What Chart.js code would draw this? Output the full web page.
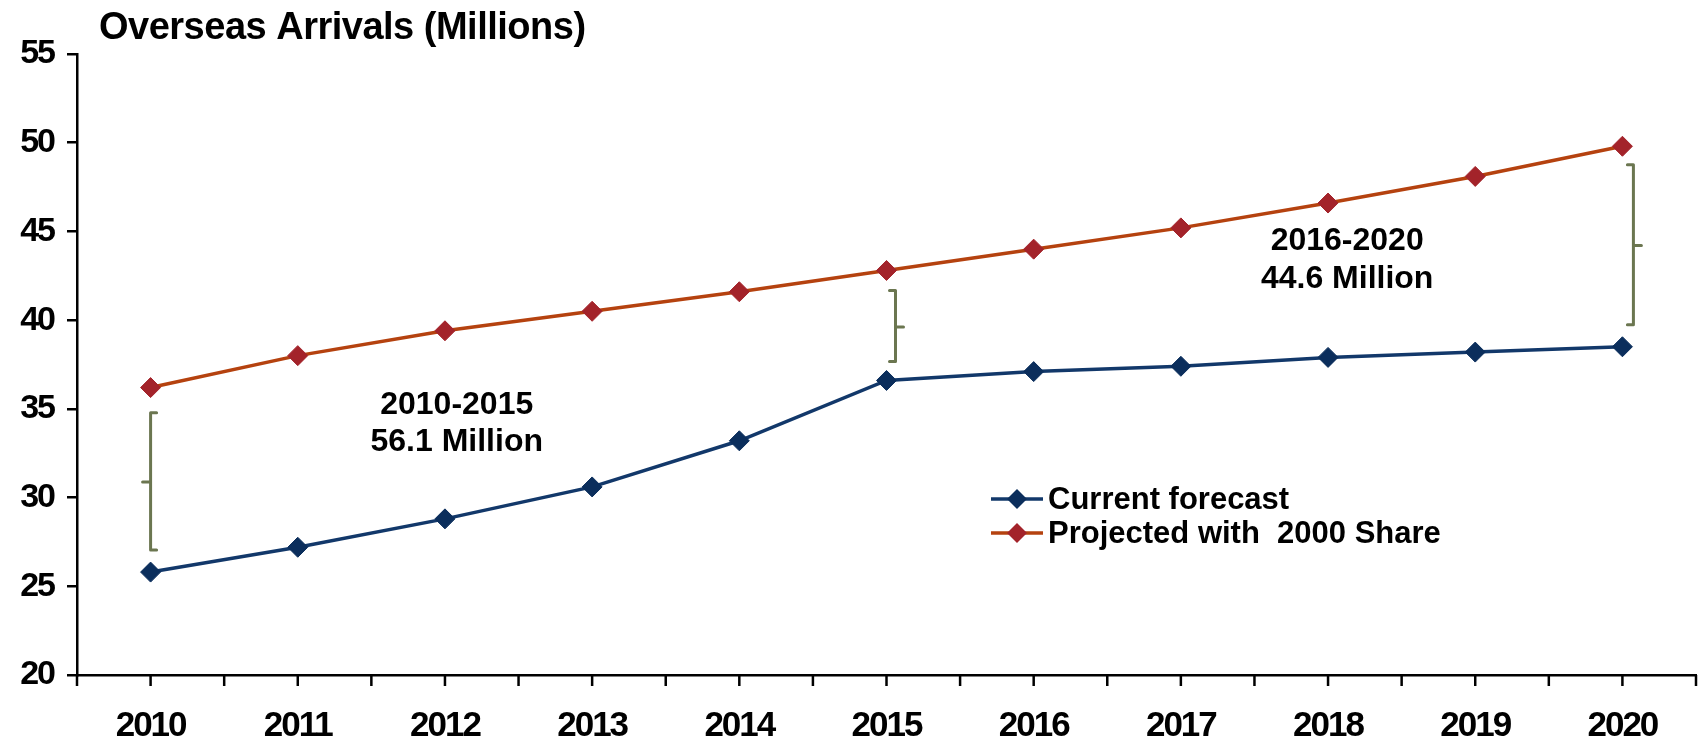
<!DOCTYPE html>
<html><head><meta charset="utf-8">
<script src="https://cdn.jsdelivr.net/npm/chart.js@4/dist/chart.umd.min.js"></script>
<style>html,body{margin:0;padding:0;background:#fff;}#wrap{width:1707px;height:738px;position:relative;}</style>
</head><body><div id="wrap"><canvas id="c" width="1707" height="738"></canvas></div>
<script>
const categories = ['2010','2011','2012','2013','2014','2015','2016','2017','2018','2019','2020'];
const currentForecast = [25.8, 27.2, 28.8, 30.6, 33.2, 36.6, 37.1, 37.4, 37.9, 38.2, 38.5];
const projected2000Share = [36.2, 38.0, 39.4, 40.5, 41.6, 42.8, 44.0, 45.2, 46.6, 48.1, 49.8];
const seriesNames = ['Current forecast', 'Projected with  2000 Share'];
const yMin = 20, yMax = 55, yStep = 5;
const chartTitle = 'Overseas Arrivals (Millions)';
const gapTextLines = [['2010-2015', '56.1 Million'], ['2016-2020', '44.6 Million']];
const bracketYears = ['2010', '2015', '2020'];
const bracketLow = [27.05, 37.67, 39.74];
const bracketHigh = [34.78, 41.67, 48.76];
const bracketMid = [30.88, 39.61, 44.21];

const FONT = '"Liberation Sans", Arial, sans-serif';
const NAVY_LINE = '#12386A', NAVY_MARK = '#0B2E5C';
const RUST_LINE = '#B5420F', RUST_MARK = '#A3232A';
const OLIVE = '#6B7650';

const overlay = {
  id: 'overlay',
  beforeDraw(chart) { chart.ctx.letterSpacing = '-2px'; },
  afterDraw(chart) {
    const ctx = chart.ctx, xs = chart.scales.x, ys = chart.scales.y;
    const area = chart.chartArea;
    ctx.save();
    ctx.letterSpacing = '0px';
    // x tick marks at centers and boundaries
    ctx.strokeStyle = '#000'; ctx.lineWidth = 2.5;
    const w = xs.getPixelForValue(1) - xs.getPixelForValue(0);
    for (let i = 0; i < categories.length; i++) {
      const c = xs.getPixelForValue(i);
      [c - w / 2, c].forEach(px => { ctx.beginPath(); ctx.moveTo(px, area.bottom); ctx.lineTo(px, area.bottom + 11); ctx.stroke(); });
    }
    const lastB = xs.getPixelForValue(categories.length - 1) + w / 2;
    ctx.beginPath(); ctx.moveTo(lastB, area.bottom); ctx.lineTo(lastB, area.bottom + 11); ctx.stroke();

    // title
    ctx.fillStyle = '#000';
    ctx.font = 'bold 38px ' + FONT;
    ctx.letterSpacing = '-0.5px';
    ctx.textAlign = 'left'; ctx.textBaseline = 'middle';
    ctx.fillText(chartTitle, 99, 29);
    ctx.letterSpacing = '0px';

    // brackets
    const offs = [0, 9, 11];
    const dirs = [1, -1, -1];
    ctx.strokeStyle = OLIVE; ctx.lineWidth = 3; ctx.lineJoin = 'round'; ctx.lineCap = 'round';
    bracketYears.forEach((yr, k) => {
      const x = xs.getPixelForValue(categories.indexOf(yr)) + offs[k];
      const yt = ys.getPixelForValue(bracketHigh[k]);
      const yb = ys.getPixelForValue(bracketLow[k]);
      const ym = ys.getPixelForValue(bracketMid[k]);
      const d = dirs[k];
      ctx.beginPath();
      ctx.moveTo(x + d * 6, yt); ctx.lineTo(x, yt); ctx.lineTo(x, yb); ctx.lineTo(x + d * 6, yb);
      ctx.moveTo(x, ym); ctx.lineTo(x - d * 8, ym);
      ctx.stroke();
    });

    // gap labels
    ctx.fillStyle = '#000';
    ctx.font = 'bold 32px ' + FONT;
    ctx.textAlign = 'center';
    const pos = [[2.08, 35.2, 33.15], [8.13, 44.45, 42.3]];
    gapTextLines.forEach((lines, k) => {
      const x = xs.getPixelForValue(0) + pos[k][0] * w;
      ctx.fillText(lines[0], x, ys.getPixelForValue(pos[k][1]));
      ctx.fillText(lines[1], x, ys.getPixelForValue(pos[k][2]));
    });

    // legend
    const ds = chart.data.datasets;
    ctx.font = 'bold 31px ' + FONT;
    ctx.textAlign = 'left';
    [499, 533].forEach((yy, k) => {
      ctx.strokeStyle = ds[k].borderColor; ctx.lineWidth = 3.5; ctx.lineCap = 'butt';
      ctx.beginPath(); ctx.moveTo(991, yy); ctx.lineTo(1043, yy); ctx.stroke();
      ctx.fillStyle = ds[k].pointBackgroundColor;
      const r = 10, cx = 1017;
      ctx.beginPath(); ctx.moveTo(cx, yy - r); ctx.lineTo(cx + r, yy); ctx.lineTo(cx, yy + r); ctx.lineTo(cx - r, yy); ctx.closePath(); ctx.fill();
      ctx.fillStyle = '#000';
      ctx.fillText(seriesNames[k], 1048, yy + 1);
    });
    ctx.restore();
  }
};

new Chart(document.getElementById('c'), {
  type: 'line',
  data: {
    labels: categories,
    datasets: [
      { label: seriesNames[0], data: currentForecast, borderColor: NAVY_LINE, backgroundColor: NAVY_MARK,
        pointBackgroundColor: NAVY_MARK, pointBorderColor: NAVY_MARK, borderWidth: 3.5, pointStyle: 'rectRot',
        pointRadius: 10, pointBorderWidth: 1, tension: 0, fill: false },
      { label: seriesNames[1], data: projected2000Share, borderColor: RUST_LINE, backgroundColor: RUST_MARK,
        pointBackgroundColor: RUST_MARK, pointBorderColor: RUST_MARK, borderWidth: 3.5, pointStyle: 'rectRot',
        pointRadius: 10, pointBorderWidth: 1, tension: 0, fill: false }
    ]
  },
  options: {
    responsive: false, animation: false, devicePixelRatio: 1,
    layout: { padding: { top: 54, right: 8, left: 0, bottom: 0 } },
    plugins: { legend: { display: false }, title: { display: false }, tooltip: { enabled: false } },
    scales: {
      x: {
        type: 'category', offset: true,
        grid: { display: false },
        border: { display: true, color: '#000', width: 2.5 },
        ticks: { color: '#000', font: { family: FONT, size: 35, weight: 'bold' }, padding: 22, maxRotation: 0, autoSkip: false },
        afterFit(s) { s.height = 63; }
      },
      y: {
        min: yMin, max: yMax,
        grid: { drawOnChartArea: false, drawTicks: true, tickLength: 10, color: '#000', lineWidth: 2.5 },
        border: { display: true, color: '#000', width: 2.5 },
        ticks: { stepSize: yStep, color: '#000', font: { family: FONT, size: 34, weight: 'bold' }, padding: 13 },
        afterFit(s) { s.width = 77; }
      }
    }
  },
  plugins: [overlay]
});
</script>
</body></html>
